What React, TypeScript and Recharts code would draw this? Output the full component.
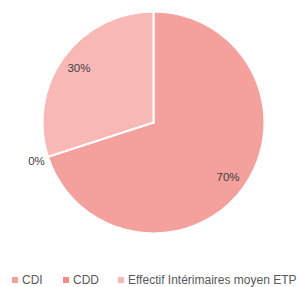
import React from 'react';
import { PieChart, Pie, Cell } from 'recharts';

const categories = ['CDI', 'CDD', 'Effectif Intérimaires moyen ETP'];
const shares = [70, 0, 30];
const colors = ['#F4A09C', '#F08D88', '#F7B8B6'];
const legendLeft = [12, 63, 118];

const data = categories.map((name, i) => ({ name, value: shares[i] }));

const RADIAN = Math.PI / 180;
const font = "'Liberation Sans', Arial, sans-serif";

const renderLabel = (props: any) => {
  const { cx, cy, midAngle, outerRadius, value } = props;
  // zero slice gets its label outside the pie, others inside
  const r = value === 0 ? outerRadius + 12 : outerRadius * 0.83;
  const x = cx + r * Math.cos(-midAngle * RADIAN);
  const y = cy + r * Math.sin(-midAngle * RADIAN);
  return (
    <text
      x={x}
      y={y}
      fill="#404040"
      fontSize={11.5}
      fontFamily={font}
      textAnchor="middle"
      dominantBaseline="central"
    >
      {`${value}%`}
    </text>
  );
};

export default function App() {
  return (
    <div style={{ position: 'absolute', left: 0, top: 0, width: 301, height: 287, background: '#fff', overflow: 'hidden' }}>
      <PieChart width={301} height={287} margin={{ top: 0, right: 0, bottom: 0, left: 0 }}>
        <Pie
          data={data}
          dataKey="value"
          nameKey="name"
          cx={153.5}
          cy={122.5}
          outerRadius={111}
          startAngle={90}
          endAngle={-270}
          stroke="#ffffff"
          strokeWidth={2}
          label={renderLabel}
          labelLine={false}
          isAnimationActive={false}
        >
          {data.map((d, i) => (
            <Cell key={d.name} fill={colors[i]} />
          ))}
        </Pie>
      </PieChart>
      {/* legend drawn as plain html so it does not shift the pie */}
      <div style={{ position: 'absolute', left: 0, top: 273, width: 301, height: 14, fontFamily: font, fontSize: 12, lineHeight: '14px', color: '#595959' }}>
        {categories.map((c, i) => (
          <div key={c} style={{ position: 'absolute', left: legendLeft[i], top: 0, height: 14, display: 'flex', alignItems: 'center', whiteSpace: 'nowrap' }}>
            <span style={{ display: 'inline-block', width: 6, height: 6, background: colors[i], marginRight: 4 }} />
            <span>{c}</span>
          </div>
        ))}
      </div>
    </div>
  );
}
